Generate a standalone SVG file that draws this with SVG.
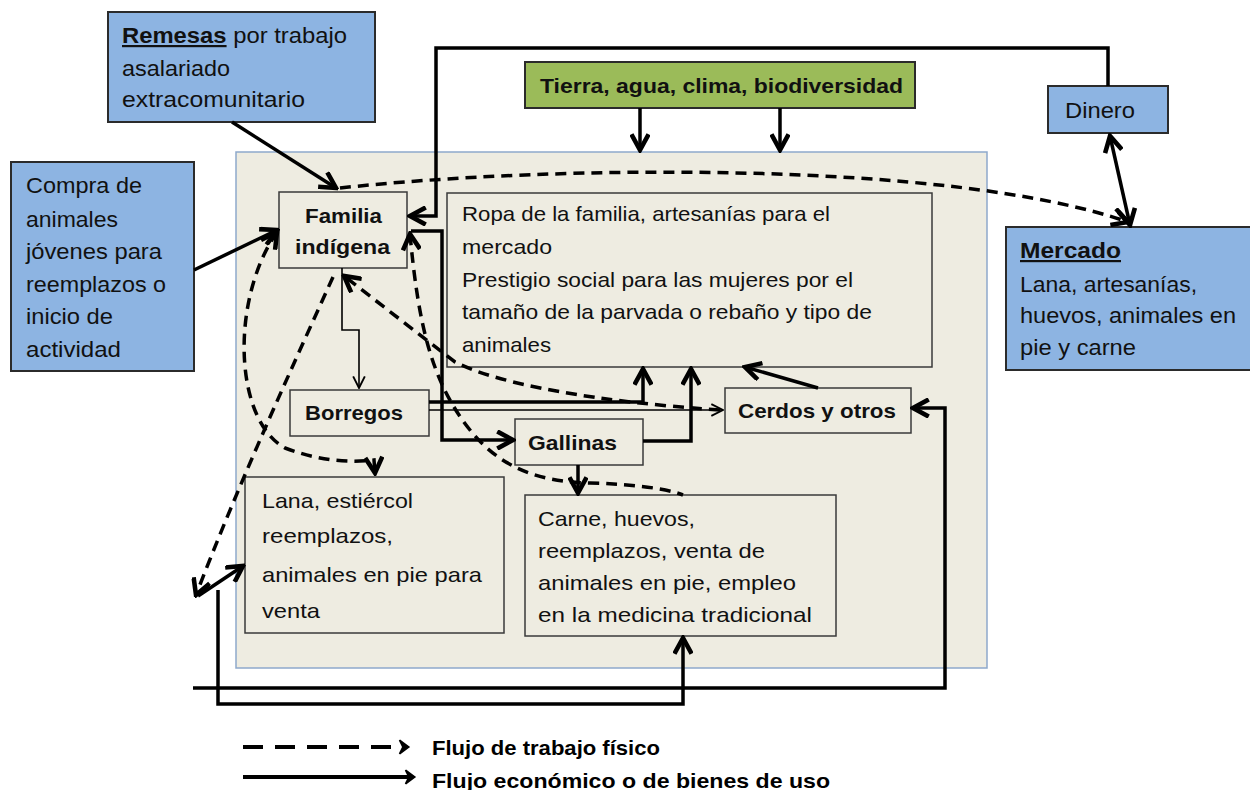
<svg xmlns="http://www.w3.org/2000/svg" width="1250" height="790" viewBox="0 0 1250 790">
<style>
.t{font-family:"Liberation Sans",Arial,sans-serif;font-size:21px;fill:#111}
.k{font-size:22px}
.b{font-weight:bold}
.blue{fill:#8DB4E2;stroke:#2b2b2b;stroke-width:2}
.inner{fill:#EEECE1;stroke:#3a3a3a;stroke-width:1.5}
.s{fill:none;stroke:#000;stroke-width:3.5}
.thin{fill:none;stroke:#000;stroke-width:1.6}
.d{fill:none;stroke:#000;stroke-width:3.5;stroke-dasharray:11 7}
.lg{font-family:"Liberation Sans Narrow","Liberation Sans",Arial,sans-serif;font-size:21px;font-weight:bold;fill:#000}
</style>
<defs>
<marker id="ah" markerUnits="userSpaceOnUse" markerWidth="20" markerHeight="20" viewBox="0 0 14 14" refX="12" refY="7" orient="auto-start-reverse">
<path d="M1,1 L12,7 L1,13" fill="none" stroke="#000" stroke-width="3.2" stroke-dasharray="none"/>
</marker>
<marker id="at" markerUnits="userSpaceOnUse" markerWidth="14" markerHeight="14" viewBox="0 0 12 12" refX="11" refY="6" orient="auto">
<path d="M1,1 L11,6 L1,11" fill="none" stroke="#000" stroke-width="1.6"/>
</marker>
<marker id="al" markerUnits="userSpaceOnUse" markerWidth="16" markerHeight="16" viewBox="0 0 14 14" refX="4" refY="7" orient="auto">
<path d="M1,1 L9,7 L1,13 L4,7 Z" fill="#000" stroke="#000" stroke-width="1.5"/>
</marker>
</defs>

<rect id="panel" x="236" y="152" width="751" height="516" fill="#EEECE1" stroke="#8EA9CB" stroke-width="1.5"/>

<g id="remesas">
<rect class="blue" x="108" y="12" width="267" height="110"/>
<text class="t k" x="122" y="43" textLength="225" lengthAdjust="spacingAndGlyphs"><tspan class="b" text-decoration="underline">Remesas</tspan> por trabajo</text>
<text class="t k" x="122" y="76" textLength="108" lengthAdjust="spacingAndGlyphs">asalariado</text>
<text class="t k" x="122" y="107" textLength="183" lengthAdjust="spacingAndGlyphs">extracomunitario</text>
</g>

<g id="compra">
<rect class="blue" x="11" y="162" width="183" height="209"/>
<text class="t k" x="26" y="193" textLength="116" lengthAdjust="spacingAndGlyphs">Compra de</text>
<text class="t k" x="26" y="227" textLength="92" lengthAdjust="spacingAndGlyphs">animales</text>
<text class="t k" x="26" y="259" textLength="136" lengthAdjust="spacingAndGlyphs">jóvenes para</text>
<text class="t k" x="26" y="292" textLength="140" lengthAdjust="spacingAndGlyphs">reemplazos o</text>
<text class="t k" x="26" y="324" textLength="87" lengthAdjust="spacingAndGlyphs">inicio de</text>
<text class="t k" x="26" y="357" textLength="95" lengthAdjust="spacingAndGlyphs">actividad</text>
</g>

<g id="tierra">
<rect x="525" y="62" width="390" height="46" fill="#9BBB59" stroke="#2b2b2b" stroke-width="2"/>
<text class="t b" x="540" y="93" textLength="363" lengthAdjust="spacingAndGlyphs">Tierra, agua, clima, biodiversidad</text>
</g>

<g id="dinero">
<rect class="blue" x="1048" y="86" width="120" height="47"/>
<text class="t k" x="1065" y="118" textLength="70" lengthAdjust="spacingAndGlyphs">Dinero</text>
</g>

<g id="mercado">
<rect class="blue" x="1006" y="227" width="250" height="143"/>
<text class="t k b" x="1020" y="258" text-decoration="underline" textLength="101" lengthAdjust="spacingAndGlyphs">Mercado</text>
<text class="t k" x="1020" y="292" textLength="177" lengthAdjust="spacingAndGlyphs">Lana, artesanías,</text>
<text class="t k" x="1020" y="323" textLength="216" lengthAdjust="spacingAndGlyphs">huevos, animales en</text>
<text class="t k" x="1020" y="355" textLength="116" lengthAdjust="spacingAndGlyphs">pie y carne</text>
</g>

<g id="familia">
<rect class="inner" x="279" y="192" width="128" height="76"/>
<text class="t b" x="305" y="223" textLength="77" lengthAdjust="spacingAndGlyphs">Familia</text>
<text class="t b" x="295" y="254" textLength="95" lengthAdjust="spacingAndGlyphs">indígena</text>
</g>

<g id="ropa">
<rect class="inner" x="447" y="193" width="485" height="174"/>
<text class="t" x="462" y="221" textLength="368" lengthAdjust="spacingAndGlyphs">Ropa de la familia, artesanías para el</text>
<text class="t" x="462" y="254" textLength="90" lengthAdjust="spacingAndGlyphs">mercado</text>
<text class="t" x="462" y="287" textLength="391" lengthAdjust="spacingAndGlyphs">Prestigio social para las mujeres por  el</text>
<text class="t" x="462" y="319" textLength="410" lengthAdjust="spacingAndGlyphs">tamaño de la parvada o rebaño y tipo de</text>
<text class="t" x="462" y="352" textLength="89" lengthAdjust="spacingAndGlyphs">animales</text>
</g>

<g id="borregos">
<rect class="inner" x="290" y="390" width="139" height="46"/>
<text class="t b" x="305" y="420" textLength="98" lengthAdjust="spacingAndGlyphs">Borregos</text>
</g>

<g id="gallinas">
<rect class="inner" x="515" y="419" width="128" height="46"/>
<text class="t b" x="528" y="450" textLength="89" lengthAdjust="spacingAndGlyphs">Gallinas</text>
</g>

<g id="cerdos">
<rect class="inner" x="725" y="388" width="186" height="45"/>
<text class="t b" x="738" y="418" textLength="158" lengthAdjust="spacingAndGlyphs">Cerdos y otros</text>
</g>

<g id="lana">
<rect class="inner" x="245" y="477" width="259" height="156"/>
<text class="t" x="262" y="508" textLength="151" lengthAdjust="spacingAndGlyphs">Lana, estiércol</text>
<text class="t" x="262" y="543" textLength="131" lengthAdjust="spacingAndGlyphs">reemplazos,</text>
<text class="t" x="262" y="582" textLength="220" lengthAdjust="spacingAndGlyphs">animales en pie para</text>
<text class="t" x="262" y="618" textLength="58" lengthAdjust="spacingAndGlyphs">venta</text>
</g>

<g id="carne">
<rect class="inner" x="525" y="495" width="311" height="141"/>
<text class="t" x="538" y="526" textLength="157" lengthAdjust="spacingAndGlyphs">Carne, huevos,</text>
<text class="t" x="538" y="558" textLength="227" lengthAdjust="spacingAndGlyphs">reemplazos, venta de</text>
<text class="t" x="538" y="590" textLength="258" lengthAdjust="spacingAndGlyphs">animales en pie,  empleo</text>
<text class="t" x="538" y="622" textLength="274" lengthAdjust="spacingAndGlyphs">en la medicina tradicional</text>
</g>

<g id="connectors">
<path class="s" d="M232,122 L336,188" marker-end="url(#ah)"/>
<path class="s" d="M194,270 L277,230" marker-end="url(#ah)"/>
<path class="s" d="M1108,86 V48 H436 V216 H410" marker-end="url(#ah)"/>
<path class="s" d="M411,231 H442 V440 H513" marker-end="url(#ah)"/>
<path class="thin" d="M342,268 V330 H359 V388" marker-end="url(#at)"/>
<path class="s" d="M429,402 H643 V369" marker-end="url(#ah)"/>
<path class="thin" d="M429,410 H723" marker-end="url(#at)"/>
<path class="s" d="M643,441 H691 V369" marker-end="url(#ah)"/>
<path class="s" d="M818,388 L745,367" marker-end="url(#ah)"/>
<path class="s" d="M578,465 V493" marker-end="url(#ah)"/>
<path class="s" d="M640,108 V150" marker-end="url(#ah)"/>
<path class="s" d="M780,108 V150" marker-end="url(#ah)"/>
<path class="s" d="M1130,225 L1110,136" marker-start="url(#ah)" marker-end="url(#ah)"/>
<path class="s" d="M193,688 H945 V408 H913" marker-end="url(#ah)"/>
<path class="s" d="M218,590 V704 H683 V638" marker-end="url(#ah)"/>
<path class="s" d="M198,596 L243,566" marker-end="url(#ah)"/>

<path class="d" d="M340,188 C550,165 950,160 1128,222" marker-end="url(#ah)"/>
<path class="d" d="M277,232 C230,300 234,420 285,448 Q330,465 374,460 L375,473" marker-start="url(#ah)" marker-end="url(#ah)"/>
<path class="d" d="M720,410 C600,402 500,385 455,362 L344,276" marker-end="url(#ah)"/>
<path class="d" d="M333,277 C300,350 240,480 196,595" marker-end="url(#ah)"/>
<path class="d" d="M410,234 C418,320 430,380 470,430 C500,468 540,482 590,483 C630,484 665,488 683,495" marker-start="url(#ah)"/>
</g>

<g id="legend">
<path d="M243,747 H403" fill="none" stroke="#000" stroke-width="4" stroke-dasharray="20 12" marker-end="url(#al)"/>
<path d="M243,777 H409" fill="none" stroke="#000" stroke-width="4" marker-end="url(#al)"/>
<text class="lg" x="432" y="755" textLength="228" lengthAdjust="spacingAndGlyphs">Flujo de trabajo físico</text>
<text class="lg" x="432" y="788" textLength="398" lengthAdjust="spacingAndGlyphs">Flujo económico o de bienes de uso</text>
</g>
</svg>
